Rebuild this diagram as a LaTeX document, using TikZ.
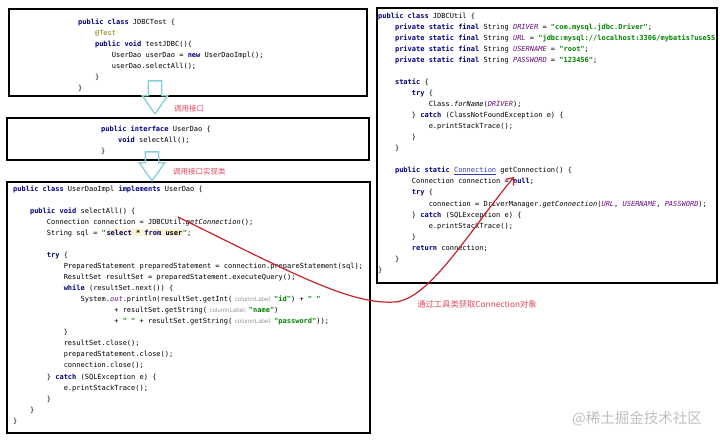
\documentclass[tikz,border=0pt]{standalone}
\usepackage{fontspec}
\setmonofont{DejaVu Sans Mono}
\setsansfont{Liberation Sans}
\newfontfamily\cjk{Noto Sans CJK SC}
\usepackage{tikz}
\usetikzlibrary{positioning,arrows.meta,shapes.arrows}

\definecolor{kwblue}{HTML}{000080}
\definecolor{strgreen}{HTML}{008000}
\definecolor{fldpurple}{HTML}{660E7A}
\definecolor{annoolive}{HTML}{808000}
\definecolor{hintgray}{HTML}{9A9A9A}
\definecolor{sqlbg}{HTML}{FCF3D2}
\definecolor{linkblue}{HTML}{2F3FB0}
\definecolor{arrowcyan}{HTML}{86CFD6}
\definecolor{curvered}{HTML}{C4232B}
\definecolor{notered}{HTML}{E2475E}

\newlength\chw
\setlength\chw{4.214pt}
\newcommand{\codefont}{\ttfamily\fontsize{7}{11.05}\selectfont}
\newcommand{\codeind}[1]{\hspace*{#1\chw}}
\newcommand{\jkw}[1]{\textcolor{kwblue}{\textbf{#1}}}
\newcommand{\jstr}[1]{\textcolor{strgreen}{\textbf{#1}}}
\newcommand{\jfld}[1]{\textcolor{fldpurple}{\textit{#1}}}
\newcommand{\jit}[1]{\textit{#1}}
\newcommand{\jhint}[1]{\hspace{2.5pt}{\sffamily\fontsize{6.2}{7}\selectfont\textcolor{hintgray}{#1}}\hspace{2.5pt}}
\newcommand{\jsql}[1]{{\setlength\fboxsep{0.6pt}\colorbox{sqlbg}{\textbf{#1}}}}

\begin{document}
\begin{tikzpicture}[
  x=1pt, y=-1pt,
  box/.style={draw=black, line width=2.2pt, anchor=north west, inner sep=0pt},
  code/.style={anchor=north west, inner sep=0pt, align=left, font=\codefont},
  blockarrow/.style={single arrow, draw=arrowcyan, line width=1.3pt, shape border rotate=270,
    anchor=tip, inner sep=6pt, minimum width=24pt, single arrow head extend=6pt, single arrow tip angle=70},
  note/.style={font=\cjk\fontsize{7.5}{9}\selectfont, text=notered, inner sep=0pt},
  conn/.style={-{Straight Barb[length=6pt, width=10pt]}, curvered, line width=1.2pt}
]
\useasboundingbox (0,0) rectangle (720,442);

% the four code boxes
\node[box, minimum width=358pt, minimum height=87pt] (testbox) at (8,8) {};
\node[box, minimum width=362pt, minimum height=42pt] (daobox) at (6,117) {};
\node[box, minimum width=363pt, minimum height=251pt] (implbox) at (6,181) {};
\node[box, minimum width=340pt, minimum height=275pt] (utilbox) at (376,7) {};

\node[code] (testcode) at (78,18.3) {%
\jkw{public class} JDBCTest \{\\
\codeind{4}\textcolor{annoolive}{@Test}\\
\codeind{4}\jkw{public void} testJDBC()\{\\
\codeind{8}UserDao userDao = \jkw{new} UserDaoImpl();\\
\codeind{8}userDao.selectAll();\\
\codeind{4}\}\\
\}};

\node[code] (daocode) at (101,125.3) {%
\jkw{public interface} UserDao \{\\
\codeind{4}\jkw{void} selectAll();\\
\}};

\node[code] (implcode) at (13,185.3) {%
\jkw{public class} UserDaoImpl \jkw{implements} UserDao \{\\
~\\
\codeind{4}\jkw{public void} selectAll() \{\\
\codeind{8}Connection connection = JDBCUtil.\jit{getConnection}();\\
\codeind{8}String sql = \jstr{"}\jsql{\textcolor{kwblue}{select} * \textcolor{kwblue}{from} user}\jstr{"};\\
~\\
\codeind{8}\jkw{try} \{\\
\codeind{12}PreparedStatement preparedStatement = connection.prepareStatement(sql);\\
\codeind{12}ResultSet resultSet = preparedStatement.executeQuery();\\
\codeind{12}\jkw{while} (resultSet.next()) \{\\
\codeind{16}System.\jfld{out}.println(resultSet.getInt(\jhint{columnLabel:}\jstr{"id"}) + \jstr{" "}\\
\codeind{24}+ resultSet.getString(\jhint{columnLabel:}\jstr{"name"})\\
\codeind{24}+ \jstr{" "} + resultSet.getString(\jhint{columnLabel:}\jstr{"password"}));\\
\codeind{12}\}\\
\codeind{12}resultSet.close();\\
\codeind{12}preparedStatement.close();\\
\codeind{12}connection.close();\\
\codeind{8}\} \jkw{catch} (SQLException e) \{\\
\codeind{12}e.printStackTrace();\\
\codeind{8}\}\\
\codeind{4}\}\\
\}};

\begin{scope}
\clip (377,8) rectangle (715,281);
\node[code] (utilcode) at (378,12.3) {%
\jkw{public class} JDBCUtil \{\\
\codeind{4}\jkw{private static final} String \jfld{DRIVER} = \jstr{"com.mysql.jdbc.Driver"};\\
\codeind{4}\jkw{private static final} String \jfld{URL} = \jstr{"jdbc:mysql://localhost:3306/mybatis?useSS}\\
\codeind{4}\jkw{private static final} String \jfld{USERNAME} = \jstr{"root"};\\
\codeind{4}\jkw{private static final} String \jfld{PASSWORD} = \jstr{"123456"};\\
~\\
\codeind{4}\jkw{static} \{\\
\codeind{8}\jkw{try} \{\\
\codeind{12}Class.\jit{forName}(\jfld{DRIVER});\\
\codeind{8}\} \jkw{catch} (ClassNotFoundException e) \{\\
\codeind{12}e.printStackTrace();\\
\codeind{8}\}\\
\codeind{4}\}\\
~\\
\codeind{4}\jkw{public static} \textcolor{linkblue}{\underline{Connection}} getConnection() \{\\
\codeind{8}Connection connection = \jkw{null};\\
\codeind{8}\jkw{try} \{\\
\codeind{12}connection = DriverManager.\jit{getConnection}(\jfld{URL}, \jfld{USERNAME}, \jfld{PASSWORD});\\
\codeind{8}\} \jkw{catch} (SQLException e) \{\\
\codeind{12}e.printStackTrace();\\
\codeind{8}\}\\
\codeind{8}\jkw{return} connection;\\
\codeind{4}\}\\
\}};
\end{scope}

% hollow arrows between the left boxes
\node[blockarrow, minimum height=33pt] (calldao) at (155,115) {};
\node[blockarrow, minimum height=29pt] (callimpl) at (152,182) {};
\node[note, anchor=west] (calldaonote) at (174,109) {调用接口};
\node[note, anchor=west] (callimplnote) at (173,172) {调用接口实现类};

% red curve to the util class
\coordinate (getconn) at (178,217);
\coordinate (connnull) at (514,177);
\draw[conn] (getconn) .. controls (290,272) and (350,305) .. (395,302)
  .. controls (430,299) and (470,230) .. (connnull);
\node[note, font=\cjk\fontsize{8.3}{10}\selectfont] (connnote) at (477,304) {通过工具类获取Connection对象};

\node[font=\cjk\fontsize{14.5}{16}\selectfont, text=black!25, inner sep=0pt] (mark) at (637,419) {@稀土掘金技术社区};
\end{tikzpicture}
\end{document}
